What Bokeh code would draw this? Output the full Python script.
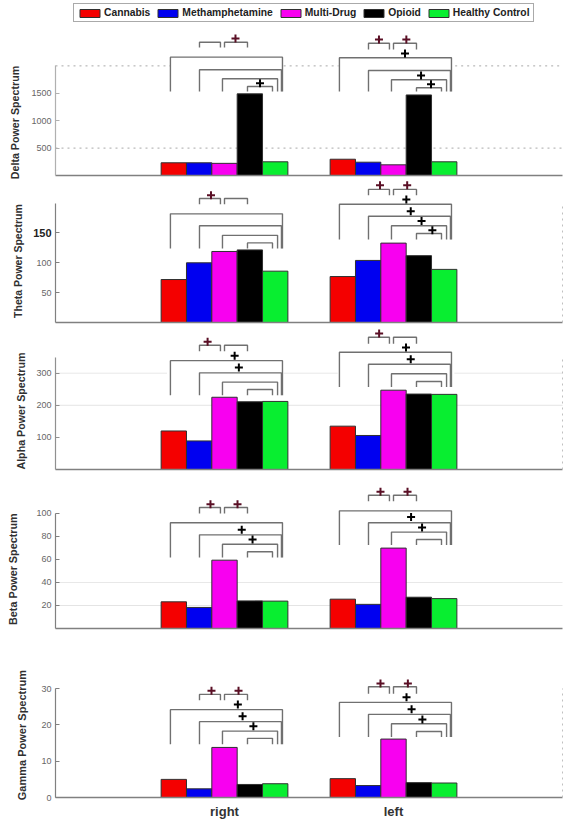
from bokeh.embed import file_html
from bokeh.resources import INLINE
from bokeh.plotting import figure
from bokeh.layouts import column
from bokeh.models import (FixedTicker, Label, Legend, LegendItem, LinearAxis, Range1d)

categories = ["Cannabis", "Methamphetamine", "Multi-Drug", "Opioid", "Healthy Control"]
colors = ["#f40000", "#0000f0", "#f800f0", "#000000", "#08ee30"]
groups = ["right", "left"]
group_centers = [1, 2]

# bar values: [right], [left]
delta_right = [232, 232, 222, 1490, 250]
delta_left = [297, 243, 195, 1470, 250]
theta_right = [72, 100, 119, 121.6, 86]
theta_left = [77, 104, 133, 112, 89]
alpha_right = [120, 89, 225, 211, 212]
alpha_left = [135, 106, 247, 235, 234]
beta_right = [23.2, 18.3, 59.4, 24, 23.8]
beta_left = [25.5, 21, 69.9, 27.2, 26]
gamma_right = [5.0, 2.4, 13.8, 3.6, 3.8]
gamma_left = [5.2, 3.3, 16.1, 4.1, 4.0]

# comparison brackets: horizontal extent relative to the group centre
bracket_spans = [(-0.32, 0.343), (-0.148, 0.337), (-0.012, 0.314), (0.136, 0.284),
                 (-0.148, -0.024), (0.0, 0.136)]

# bracket heights: four nested tops, foot, two small tops, small foot
delta_br = [[2159, 1929, 1765, 1624, 1533, 2432, 2336], [2148, 1916, 1746, 1600, 1533, 2414, 2299]]
theta_br = [[182, 162, 146, 133.4, 124, 207.7, 198], [198, 178, 162, 149, 139, 223, 213]]
alpha_br = [[339, 301, 272, 249, 231.5, 387, 368.5], [365, 328, 298, 274, 257, 412, 392]]
beta_br = [[91.9, 81.4, 73.3, 66.7, 61.7, 105.2, 100], [102.3, 91.9, 83.8, 77.4, 72.5, 115.9, 110.7]]
gamma_br = [[24.2, 20.9, 18.3, 16.3, 14.7, 28.4, 26.8], [26.2, 22.9, 20.3, 18.2, 16.7, 30.5, 28.6]]

# significance stars (x, y); red = over the small brackets, black = nested
delta_red = [(1.065, 2500), (1.914, 2482), (2.076, 2482)]
delta_black = [(1.21, 1684), (2.068, 2226), (2.163, 1825), (2.222, 1666)]
theta_red = [(0.92, 213), (1.92, 230), (2.081, 230)]
theta_black = [(2.076, 206), (2.102, 186.5), (2.166, 170), (2.23, 154.7)]
alpha_red = [(0.9, 397.6), (1.915, 423.5)]
alpha_black = [(1.06, 354), (1.085, 318), (2.074, 380), (2.102, 343.6)]
beta_red = [(0.917, 108), (1.077, 108), (1.923, 118.8), (2.083, 118.8)]
beta_black = [(1.102, 85.8), (1.166, 77.4), (2.104, 97), (2.169, 87.8)]
gamma_red = [(0.923, 29.4), (1.083, 29.4), (1.923, 31.4), (2.085, 31.4)]
gamma_black = [(1.079, 25.6), (1.107, 22.4), (1.171, 19.6), (2.077, 27.6), (2.107, 24.3), (2.171, 21.5)]

panels = [
    dict(label="Delta Power Spectrum", right=delta_right, left=delta_left, br=delta_br,
         red=delta_red, black=delta_black, ticks=[500, 1000, 1500], top=2000,
         ymin=-91, ymax=3193, height=180, lab_x=-0.237, lab_y=967, lab_size="10.7px",
         grid=[(500, [(0, 3)], "dotted", "#a8a8a8"),
               (2000, [(0, 0.68), (1.35, 1.675), (2.365, 3)], "dotted", "#a8a8a8")],
         axis_color="#b0b0b0", rail=False),
    dict(label="Theta Power Spectrum", right=theta_right, left=theta_left, br=theta_br,
         red=theta_red, black=theta_black, ticks=[50, 100], top=200,
         ymin=-3.35, ymax=237.9, height=144, lab_x=-0.219, lab_y=103, lab_size="10.5px",
         grid=[], axis_color="#808080", rail=True, bold_tick=150),
    dict(label="Alpha Power Spectrum", right=alpha_right, left=alpha_left, br=alpha_br,
         red=alpha_red, black=alpha_black, ticks=[100, 200, 300], top=350,
         ymin=-6.2, ymax=451.6, height=147, lab_x=-0.207, lab_y=182, lab_size="10.7px",
         grid=[(200, [(0, 3)], "solid", "#e4e4e4"),
               (300, [(0, 0.66), (1.35, 1.67), (2.36, 3)], "solid", "#e8e8e8")],
         axis_color="#909090", rail=True),
    dict(label="Beta Power Spectrum", right=beta_right, left=beta_left, br=beta_br,
         red=beta_red, black=beta_black, ticks=[20, 40, 60, 80, 100], top=100,
         ymin=-1.74, ymax=136.5, height=159, lab_x=-0.254, lab_y=51.6, lab_size="10.8px",
         grid=[(20, [(0, 3)], "solid", "#e4e4e4"), (40, [(0, 3)], "solid", "#e8e8e8")],
         axis_color="#808080", rail=False),
    dict(label="Gamma Power Spectrum", right=gamma_right, left=gamma_left, br=gamma_br,
         red=gamma_red, black=gamma_black, ticks=[0, 10, 20, 30], top=30,
         ymin=-6.6, ymax=46, height=191, lab_x=-0.2, lab_y=17.2, lab_size="11px",
         grid=[], axis_color="#808080", rail=True),
]

FONT = "Liberation Sans"
BAR_W = 0.15
figs = []
for i, pn in enumerate(panels):
    last = i == len(panels) - 1
    fig = figure(width=566, height=pn["height"],
                 x_range=Range1d(-55 / 169, 3 + 4 / 169), y_range=Range1d(pn["ymin"], pn["ymax"]),
                 output_backend="svg", toolbar_location=None,
                 min_border_left=0, min_border_right=0, min_border_top=0,
                 min_border_bottom=0, outline_line_color=None,
                 background_fill_color="white", border_fill_color=None)
    fig.xgrid.visible = False
    fig.ygrid.visible = False

    for value, spans, dash, col in pn["grid"]:
        fig.segment([s[0] for s in spans], [value] * len(spans),
                    [s[1] for s in spans], [value] * len(spans),
                    line_color=col, line_width=1, line_dash=dash)

    renderers = []
    for s, cat in enumerate(categories):
        xs = [c + (s - 2) * BAR_W for c in group_centers]
        tops = [pn["right"][s], pn["left"][s]]
        r = fig.vbar(x=xs, top=tops, bottom=0, width=BAR_W, fill_color=colors[s],
                     line_color="#303030", line_width=1)
        renderers.append(r)

    ml_x, ml_y = [], []
    for c, h in zip(group_centers, pn["br"]):
        for k in range(4):
            ml_x.append([c + bracket_spans[k][0], c + bracket_spans[k][0],
                         c + bracket_spans[k][1], c + bracket_spans[k][1]])
            ml_y.append([h[4], h[k], h[k], h[4]])
        for k in (4, 5):
            ml_x.append([c + bracket_spans[k][0], c + bracket_spans[k][0],
                         c + bracket_spans[k][1], c + bracket_spans[k][1]])
            ml_y.append([h[6], h[5], h[5], h[6]])
    fig.multi_line(ml_x, ml_y, line_color="#707070", line_width=1.4)

    fig.scatter([p[0] for p in pn["red"]], [p[1] for p in pn["red"]], marker="cross",
                size=8, line_color="#5a0f25", line_width=2)
    fig.scatter([p[0] for p in pn["black"]], [p[1] for p in pn["black"]], marker="cross",
                size=8, line_color="#000000", line_width=2)

    ya = fig.yaxis[0]
    ya.fixed_location = 0
    ya.ticker = FixedTicker(ticks=pn["ticks"])
    ya.bounds = (0, pn["top"])
    ya.axis_line_color = pn["axis_color"]
    ya.axis_line_width = 1.2
    ya.major_tick_line_color = pn["axis_color"]
    ya.major_tick_in = 4
    ya.major_tick_out = 0
    ya.minor_tick_line_color = None
    ya.major_label_standoff = 4
    ya.major_label_text_font = FONT
    ya.major_label_text_font_size = "9px"
    ya.major_label_text_color = "#666666"
    if "bold_tick" in pn:
        ba = LinearAxis(ticker=FixedTicker(ticks=[pn["bold_tick"]]), fixed_location=0,
                        axis_line_color=None, major_tick_line_color=pn["axis_color"],
                        major_tick_in=4, major_tick_out=0, minor_tick_line_color=None,
                        major_label_standoff=4, major_label_text_font=FONT,
                        major_label_text_font_size="11px",
                        major_label_text_font_style="bold",
                        major_label_text_color="#222222")
        fig.add_layout(ba, "left")

    xa = fig.xaxis[0]
    xa.fixed_location = 0
    xa.bounds = (0, 3)
    xa.axis_line_color = "#808080"
    xa.axis_line_width = 1.5
    xa.major_tick_line_color = None
    xa.minor_tick_line_color = None
    if last:
        xa.ticker = FixedTicker(ticks=group_centers)
        xa.major_label_overrides = dict(zip(group_centers, groups))
        xa.major_label_standoff = 0
        xa.major_label_text_font = FONT
        xa.major_label_text_font_size = "13px"
        xa.major_label_text_font_style = "bold"
        xa.major_label_text_color = "#333333"
    else:
        xa.ticker = FixedTicker(ticks=[])

    if pn["rail"]:
        ra = LinearAxis(ticker=FixedTicker(ticks=[]), bounds=(0, pn["top"]), fixed_location=3,
                        axis_line_color="#c0c0c0", axis_line_dash="dotted",
                        major_tick_line_color=None, minor_tick_line_color=None)
        fig.add_layout(ra, "right")

    fig.add_layout(Label(x=pn["lab_x"], y=pn["lab_y"], text=pn["label"], angle=90,
                         angle_units="deg", text_align="center", text_baseline="middle",
                         text_font=FONT, text_font_size=pn["lab_size"], text_font_style="bold",
                         text_color="#303030"))

    if i == 0:
        legend = Legend(items=[LegendItem(label=c, renderers=[r])
                               for c, r in zip(categories, renderers)],
                        orientation="horizontal", location=(73, 158),
                        glyph_width=25, glyph_height=10, label_standoff=2, spacing=5,
                        padding=3, margin=0, border_line_color="#555555",
                        border_line_width=1, background_fill_color="white",
                        background_fill_alpha=1,
                        label_text_font=FONT, label_text_font_size="10.3px",
                        label_text_font_style="bold", label_text_color="#222222",
                        label_height=10)
        fig.add_layout(legend, "center")
    figs.append(fig)

page = column(*figs, spacing=0)
open("out.html", "w").write(file_html(page, INLINE))
